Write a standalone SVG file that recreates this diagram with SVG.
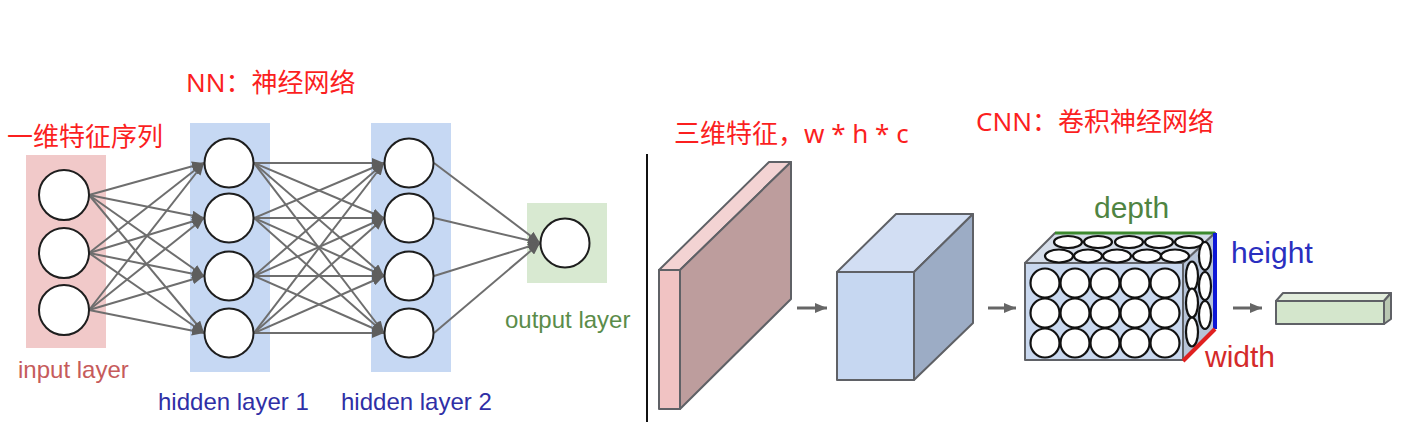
<svg xmlns="http://www.w3.org/2000/svg" width="1421" height="439" viewBox="0 0 1421 439">
<style>
.title{font-family:"Noto Sans","Noto Sans CJK SC",sans-serif;font-size:26px;fill:#fb1f1f}
.lbl{font-family:"Liberation Sans",Arial,sans-serif;font-size:24px}
.big{font-family:"Liberation Sans",Arial,sans-serif;font-size:30px}
.node{fill:#fff;stroke:#1e1e1e;stroke-width:2}
.edge{stroke:#6e6e6e;stroke-width:2;fill:none;marker-end:url(#ah)}
.cc{fill:#fff;stroke:#111;stroke-width:2.2}
.face{stroke:#5f6166;stroke-width:2;stroke-linejoin:round}
</style>
<defs>
<marker id="ah" markerUnits="userSpaceOnUse" markerWidth="12" markerHeight="10" refX="12" refY="5" orient="auto">
<path d="M0,0 L12,5 L0,10 z" fill="#5e5e5e"/>
</marker>
<marker id="ah2" markerUnits="userSpaceOnUse" markerWidth="12" markerHeight="10" refX="12" refY="5" orient="auto">
<path d="M0,0 L12,5 L0,10 z" fill="#666"/>
</marker>
</defs>
<rect width="1421" height="439" fill="#fff"/>

<!-- titles -->
<text class="title" x="186" y="92">NN：神经网络</text>
<text class="title" x="7" y="146">一维特征序列</text>
<text class="title" x="674" y="143">三维特征，w * h * c</text>
<text class="title" x="976" y="131">CNN：卷积神经网络</text>

<!-- layer backgrounds -->
<g id="input-layer">
<rect x="26" y="155" width="80" height="193" fill="#f1c9c9"/>
<text class="lbl" x="18" y="378" fill="#c65b5b">input layer</text>
</g>
<g id="hidden-layer-1">
<rect x="190" y="123" width="80" height="249" fill="#c6d8f3"/>
<text class="lbl" x="158" y="410" fill="#2f2fa6">hidden layer 1</text>
</g>
<g id="hidden-layer-2">
<rect x="371" y="123" width="80" height="249" fill="#c6d8f3"/>
<text class="lbl" x="341" y="410" fill="#2f2fa6">hidden layer 2</text>
</g>
<g id="output-layer">
<rect x="527" y="203" width="80" height="80" fill="#d8e9d1"/>
<text class="lbl" x="505" y="328" fill="#5b8c4a">output layer</text>
</g>

<!-- connectors -->
<g id="connectors">
<path class="edge" d="M89,195 L204,163"/><path class="edge" d="M89,195 L204,218"/><path class="edge" d="M89,195 L204,276"/><path class="edge" d="M89,195 L204,333"/>
<path class="edge" d="M89,253 L204,163"/><path class="edge" d="M89,253 L204,218"/><path class="edge" d="M89,253 L204,276"/><path class="edge" d="M89,253 L204,333"/>
<path class="edge" d="M89,310 L204,163"/><path class="edge" d="M89,310 L204,218"/><path class="edge" d="M89,310 L204,276"/><path class="edge" d="M89,310 L204,333"/>
<path class="edge" d="M254,163 L384,163"/><path class="edge" d="M254,163 L384,218"/><path class="edge" d="M254,163 L384,276"/><path class="edge" d="M254,163 L384,333"/>
<path class="edge" d="M254,218 L384,163"/><path class="edge" d="M254,218 L384,218"/><path class="edge" d="M254,218 L384,276"/><path class="edge" d="M254,218 L384,333"/>
<path class="edge" d="M254,276 L384,163"/><path class="edge" d="M254,276 L384,218"/><path class="edge" d="M254,276 L384,276"/><path class="edge" d="M254,276 L384,333"/>
<path class="edge" d="M254,333 L384,163"/><path class="edge" d="M254,333 L384,218"/><path class="edge" d="M254,333 L384,276"/><path class="edge" d="M254,333 L384,333"/>
<path class="edge" d="M434,163 L540,243"/><path class="edge" d="M434,218 L540,243"/><path class="edge" d="M434,276 L540,243"/><path class="edge" d="M434,333 L540,243"/>
<path d="M797,308 L827,308" stroke="#666" stroke-width="3" marker-end="url(#ah2)"/>
<path d="M988,308 L1016,308" stroke="#666" stroke-width="3" marker-end="url(#ah2)"/>
<path d="M1233,308 L1262,308" stroke="#666" stroke-width="3" marker-end="url(#ah2)"/>
</g>

<!-- NN nodes -->
<g id="in-nodes">
<circle class="node" cx="64" cy="195" r="25"/><circle class="node" cx="64" cy="253" r="25"/><circle class="node" cx="64" cy="310" r="25"/>
</g>
<g id="h1-nodes">
<circle class="node" cx="229" cy="163" r="24.5"/><circle class="node" cx="229" cy="218" r="24.5"/><circle class="node" cx="229" cy="276" r="24.5"/><circle class="node" cx="229" cy="333" r="24.5"/>
</g>
<g id="h2-nodes">
<circle class="node" cx="409" cy="163" r="24.5"/><circle class="node" cx="409" cy="218" r="24.5"/><circle class="node" cx="409" cy="276" r="24.5"/><circle class="node" cx="409" cy="333" r="24.5"/>
</g>
<g id="out-node">
<circle class="node" cx="565" cy="243" r="24.5"/>
</g>

<!-- divider -->
<line x1="647" y1="154" x2="647" y2="422" stroke="#111" stroke-width="2"/>

<!-- input slab -->
<g id="input-slab">
<polygon class="face" points="659,270 769,162 791,162 680,270" fill="#f3d3d3"/>
<polygon class="face" points="680,270 791,162 791,299 680,409" fill="#bd9d9d"/>
<rect class="face" x="659" y="270" width="21" height="139" fill="#f1c3c3"/>
</g>

<!-- blue cube -->
<g id="conv-cube">
<polygon class="face" points="837,272 896,214 973,214 914,272" fill="#d2def3"/>
<polygon class="face" points="914,272 973,214 973,323 914,380" fill="#9cacc5"/>
<rect class="face" x="837" y="272" width="77" height="108" fill="#c6d7f1"/>
</g>

<!-- CNN volume -->
<g id="cnn-volume">
<polygon class="face" points="1025,263 1055,233 1215,233 1183,263" fill="#d5dde9" stroke-width="1.5"/>
<polygon class="face" points="1183,263 1215,233 1215,328 1183,360" fill="#b7c4d8" stroke-width="1.5"/>
<rect class="face" x="1025" y="263" width="158" height="97" fill="#c9d8ef" stroke-width="1.5"/>
<ellipse class="cc" cx="1068" cy="242" rx="14" ry="6"/><ellipse class="cc" cx="1098" cy="242" rx="14" ry="6"/><ellipse class="cc" cx="1129" cy="242" rx="14" ry="6"/><ellipse class="cc" cx="1159" cy="242" rx="14" ry="6"/><ellipse class="cc" cx="1189" cy="242" rx="14" ry="6"/>
<ellipse class="cc" cx="1059" cy="256" rx="14" ry="6.5"/><ellipse class="cc" cx="1088" cy="256" rx="14" ry="6.5"/><ellipse class="cc" cx="1117" cy="256" rx="14" ry="6.5"/><ellipse class="cc" cx="1147" cy="256" rx="14" ry="6.5"/><ellipse class="cc" cx="1175" cy="256" rx="14" ry="6.5"/>
<circle class="cc" cx="1045" cy="283" r="14.5"/><circle class="cc" cx="1075" cy="283" r="14.5"/><circle class="cc" cx="1105" cy="283" r="14.5"/><circle class="cc" cx="1135" cy="283" r="14.5"/><circle class="cc" cx="1165" cy="283" r="14.5"/>
<circle class="cc" cx="1045" cy="313" r="14.5"/><circle class="cc" cx="1075" cy="313" r="14.5"/><circle class="cc" cx="1105" cy="313" r="14.5"/><circle class="cc" cx="1135" cy="313" r="14.5"/><circle class="cc" cx="1165" cy="313" r="14.5"/>
<circle class="cc" cx="1045" cy="343" r="14.5"/><circle class="cc" cx="1075" cy="343" r="14.5"/><circle class="cc" cx="1105" cy="343" r="14.5"/><circle class="cc" cx="1135" cy="343" r="14.5"/><circle class="cc" cx="1165" cy="343" r="14.5"/>
<ellipse class="cc" cx="1205" cy="256" rx="6" ry="14"/><ellipse class="cc" cx="1205" cy="286" rx="6" ry="14"/><ellipse class="cc" cx="1205" cy="315" rx="6" ry="14"/>
<ellipse class="cc" cx="1192" cy="276" rx="6" ry="14.5"/><ellipse class="cc" cx="1192" cy="303" rx="6" ry="14.5"/><ellipse class="cc" cx="1192" cy="332" rx="6" ry="14.5"/>
<line x1="1055" y1="233" x2="1215" y2="233" stroke="#3c8a2e" stroke-width="3"/>
<line x1="1215" y1="233" x2="1215" y2="329" stroke="#0d17d6" stroke-width="4"/>
<line x1="1183" y1="361" x2="1215" y2="329" stroke="#e02020" stroke-width="4"/>
<text class="big" x="1094" y="218" fill="#4f8442">depth</text>
<text class="big" x="1231" y="263" fill="#2a2fbf">height</text>
<text class="big" x="1205" y="367" fill="#d42a2a">width</text>
</g>

<!-- output bar -->
<g id="fc-bar">
<polygon class="face" points="1276,301 1283,293 1391,293 1384,301" fill="#e2eddc"/>
<polygon class="face" points="1384,301 1391,293 1391,319 1384,324" fill="#b9c7b2"/>
<rect class="face" x="1276" y="301" width="108" height="23" fill="#d4e6cc"/>
</g>
</svg>
